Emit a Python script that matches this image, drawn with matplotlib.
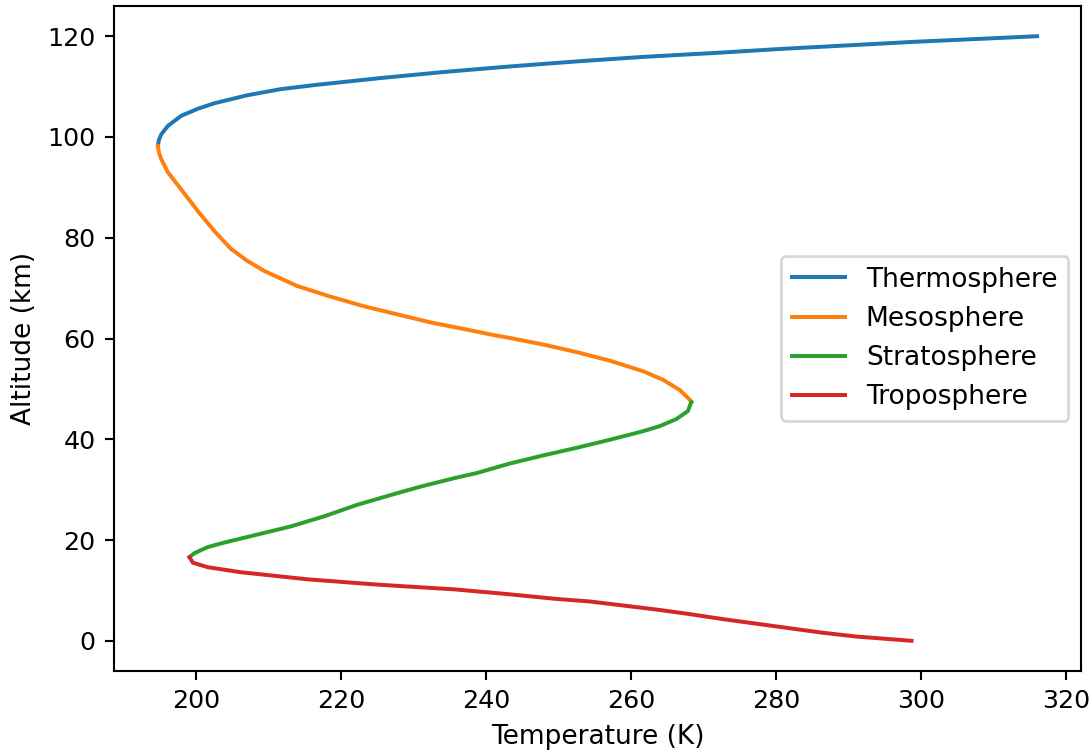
import numpy as np
import matplotlib
matplotlib.use('Agg')
import matplotlib.pyplot as plt

DPI = 190

# temperature profile of each layer, (temperature K, altitude km)
thermo_T = [194.78, 194.9, 195.23, 196.15, 197.98, 200.27, 202.57, 207.15, 211.73,
            216.32, 220.89, 225.5, 234.2, 243.3, 252.5, 261.7, 271.8, 280.9,
            290.1, 299.2, 308.4, 316.0]
thermo_h = [98.2, 99.4, 100.5, 102.2, 104.2, 105.6, 106.7, 108.3, 109.5,
            110.3, 111.0, 111.7, 112.9, 114.0, 115.0, 115.9, 116.7, 117.5,
            118.2, 118.9, 119.5, 120.0]

meso_T = [194.78, 194.9, 195.23, 196.15, 197.98, 200.27, 202.57, 204.85, 207.0,
          209.44, 214.02, 218.6, 223.19, 227.77, 232.35, 236.93, 241.0, 243.34,
          247.93, 252.51, 257.09, 261.68, 264.43, 266.71, 268.08, 268.32]
meso_h = [98.2, 97.0, 95.6, 93.0, 89.6, 85.3, 81.3, 77.8, 75.5,
          73.4, 70.4, 68.3, 66.4, 64.8, 63.2, 61.9, 60.7, 60.1,
          58.8, 57.3, 55.6, 53.5, 51.8, 49.8, 47.9, 47.4]

strato_T = [268.32, 267.86, 266.25, 263.96, 261.68, 257.09, 252.51, 247.93, 243.34,
            238.76, 235.7, 231.0, 227.77, 222.27, 217.69, 213.1, 208.52, 203.95,
            201.65, 199.82, 199.13]
strato_h = [47.4, 45.6, 44.0, 42.6, 41.6, 39.9, 38.3, 36.8, 35.2,
            33.3, 32.3, 30.6, 29.3, 27.0, 24.7, 22.7, 21.1, 19.5,
            18.6, 17.4, 16.6]

tropo_T = [199.13, 199.59, 201.65, 206.23, 210.82, 215.4, 219.97, 224.56, 227.77,
           235.7, 242.7, 249.76, 254.34, 258.93, 263.51, 268.08, 272.67, 277.25,
           281.83, 286.42, 290.99, 295.57, 298.69]
tropo_h = [16.6, 15.5, 14.6, 13.6, 12.9, 12.2, 11.7, 11.2, 10.9,
           10.2, 9.3, 8.3, 7.8, 7.0, 6.2, 5.3, 4.3, 3.4,
           2.5, 1.6, 0.85, 0.34, 0.0]

fig = plt.figure(figsize=(1091 / DPI, 755 / DPI), dpi=DPI)
ax = fig.add_axes([114 / 1091, 84 / 755, 967 / 1091, 665 / 755])

ax.plot(thermo_T, thermo_h, label='Thermosphere')
ax.plot(meso_T, meso_h, label='Mesosphere')
ax.plot(strato_T, strato_h, label='Stratosphere')
ax.plot(tropo_T, tropo_h, label='Troposphere')

ax.tick_params(labelsize=9.6)
ax.set_xlabel('Temperature (K)')
ax.set_ylabel('Altitude (km)')
ax.legend(loc='center right')

fig.savefig('out.png', dpi=DPI)
